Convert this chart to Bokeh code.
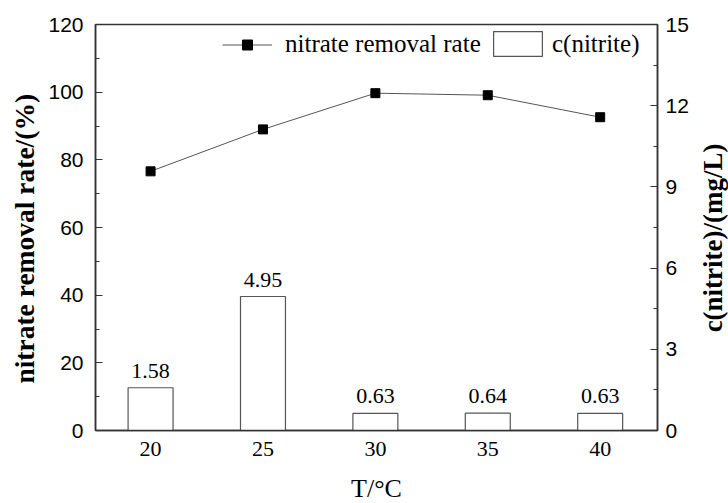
import math
from bokeh.plotting import figure
from bokeh.layouts import row, column
from bokeh.models import (Range1d, LinearAxis, FixedTicker, ColumnDataSource,
                          LabelSet, Legend, LegendItem)
from bokeh.core.properties import value
from bokeh.embed import file_html
from bokeh.resources import INLINE

# ---- data ----
temperature = [20, 25, 30, 35, 40]
removal_rate = [76.6, 89.0, 99.7, 99.1, 92.6]
nitrite = [1.58, 4.95, 0.63, 0.64, 0.63]
nitrite_labels = ["%.2f" % v for v in nitrite]
left_ticks = [0, 20, 40, 60, 80, 100, 120]
left_minor = [10, 30, 50, 70, 90, 110]
right_ticks = [0, 3, 6, 9, 12, 15]
right_minor = [1.5, 4.5, 7.5, 10.5, 13.5]
x_title = "T/°C"
left_title = "nitrate removal rate/(%)"
right_title = "c(nitrite)/(mg/L)"

SERIF = "Liberation Serif"
SANS = "Liberation Sans"
AXC = "#333333"

W, H = 728, 503
LW, RW, BH = 40, 34, 35          # widths/height of the title strips
PW, PH = W - LW - RW, H - BH     # main figure size

p = figure(width=PW, height=PH, output_backend="svg", toolbar_location=None,
           x_range=Range1d(17.55, 42.55), y_range=Range1d(0, 120),
           min_border_left=95 - LW, min_border_right=(W - RW) - 657,
           min_border_top=24, min_border_bottom=PH - 430)
p.extra_y_ranges = {"right": Range1d(0, 15)}
p.grid.visible = False
p.outline_line_color = AXC
p.outline_line_width = 1.5
p.background_fill_color = "white"
p.border_fill_color = "white"

src = ColumnDataSource(dict(t=temperature, rate=removal_rate, c=nitrite, lab=nitrite_labels))

bars = p.vbar(x="t", top="c", width=2, source=src, y_range_name="right",
              fill_color="white", line_color="#555555", line_width=1.2)
line = p.line(x="t", y="rate", source=src, line_color="#555555", line_width=1)
pts = p.scatter(x="t", y="rate", source=src, marker="square", size=9,
                fill_color="black", line_color="black")

labels = LabelSet(x="t", y="c", text="lab", source=src, y_range_name="right",
                  text_align="center", text_baseline="alphabetic", y_offset=10,
                  text_font=SERIF, text_font_size="22px", text_color="black")
p.add_layout(labels)

# x axis
xa = p.xaxis[0]
xa.ticker = FixedTicker(ticks=temperature)
xa.major_tick_line_color = None
xa.minor_tick_line_color = None
xa.major_tick_in = 0
xa.major_tick_out = 0
xa.minor_tick_out = 0
xa.major_label_standoff = 11
xa.major_label_text_font = SERIF
xa.major_label_text_font_size = "22px"
xa.major_label_text_color = "black"
xa.axis_line_color = AXC
xa.axis_line_width = 1.5

# left axis
ya = p.yaxis[0]
ya.ticker = FixedTicker(ticks=left_ticks, minor_ticks=left_minor)
ya.major_tick_in = 7
ya.major_tick_out = 0
ya.minor_tick_in = 4
ya.minor_tick_out = 0
ya.major_tick_line_color = AXC
ya.minor_tick_line_color = AXC
ya.major_label_standoff = 12
ya.major_label_text_font = SANS
ya.major_label_text_font_size = "21px"
ya.major_label_text_color = "black"
ya.axis_line_color = AXC
ya.axis_line_width = 1.5

# right axis
ra = LinearAxis(y_range_name="right",
                ticker=FixedTicker(ticks=right_ticks, minor_ticks=right_minor))
ra.major_tick_in = 7
ra.major_tick_out = 0
ra.minor_tick_in = 4
ra.minor_tick_out = 0
ra.major_tick_line_color = AXC
ra.minor_tick_line_color = AXC
ra.major_label_standoff = 8
ra.major_label_text_font = SANS
ra.major_label_text_font_size = "21px"
ra.major_label_text_color = "black"
ra.axis_line_color = AXC
ra.axis_line_width = 1.5
p.add_layout(ra, "right")

legend1 = Legend(items=[LegendItem(label="nitrate removal rate", renderers=[line, pts])],
                 orientation="horizontal", location=(127, 372 - (503 - H)),
                 border_line_color=None, background_fill_alpha=0,
                 glyph_width=50, glyph_height=25, label_standoff=13,
                 padding=6, margin=0, label_text_font=SERIF,
                 label_text_font_size="25px", label_text_color="black")
legend2 = Legend(items=[LegendItem(label="c(nitrite)", renderers=[bars])],
                 orientation="horizontal", location=(392, 371 - (503 - H)),
                 border_line_color=None, background_fill_alpha=0,
                 glyph_width=61, glyph_height=31, label_standoff=4,
                 padding=6, margin=0, label_text_font=SERIF,
                 label_text_font_size="25px", label_text_color="black")
p.add_layout(legend1)
p.add_layout(legend2)


def strip(width, height, x0, y0):
    """A bare figure whose data units are page pixels (y downward)."""
    f = figure(width=width, height=height, output_backend="svg", toolbar_location=None,
               x_range=Range1d(x0, x0 + width), y_range=Range1d(y0 + height, y0),
               min_border=0)
    f.axis.visible = False
    f.grid.visible = False
    f.outline_line_color = None
    f.background_fill_color = "white"
    f.border_fill_color = "white"
    return f


pl = strip(LW, PH, 0, 0)
pl.text(x=[24], y=[247], text=[left_title], angle=math.pi / 2,
        text_align="center", text_baseline="middle", text_font=value(SERIF),
        text_font_size="27.5px", text_font_style="bold", text_color="black")

pr = strip(RW, PH, W - RW, 0)
pr.text(x=[712], y=[246], text=[right_title], angle=math.pi / 2,
        text_align="center", text_baseline="middle", text_font=value(SERIF),
        text_font_size="27px", text_font_style="bold", text_color="black")

pb = strip(W, BH, 0, PH)
pb.text(x=[376], y=[488], text=[x_title],
        text_align="center", text_baseline="middle", text_font=value(SERIF),
        text_font_size="26px", text_color="black")

layout = column(row(pl, p, pr, spacing=0), pb, spacing=0)
open("out.html", "w").write(file_html(layout, INLINE))
